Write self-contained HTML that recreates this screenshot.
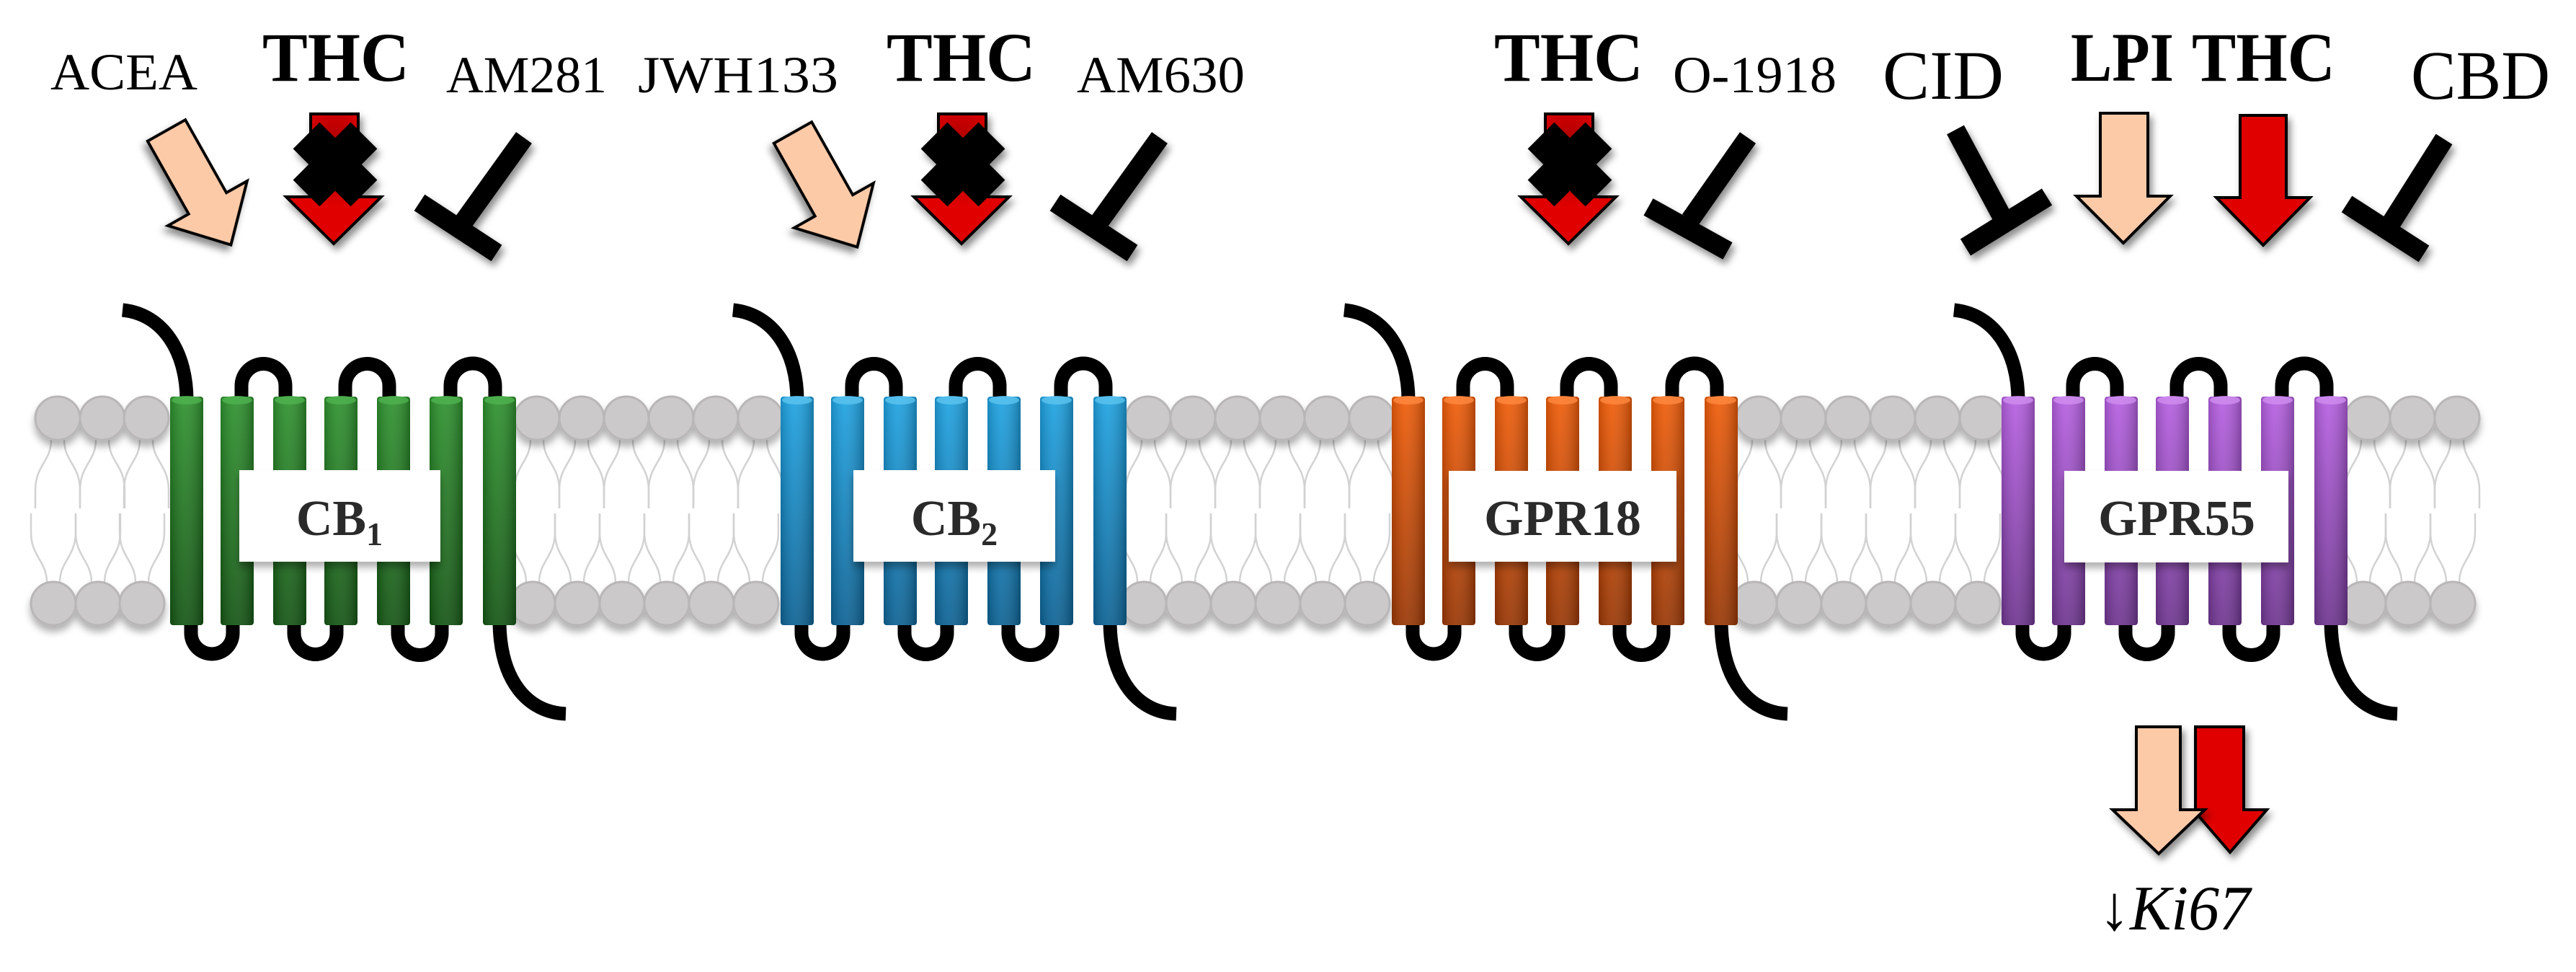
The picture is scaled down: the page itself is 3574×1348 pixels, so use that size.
<!DOCTYPE html>
<html><head><meta charset="utf-8">
<style>
html,body{margin:0;padding:0;background:#fff;}
svg{display:block;}
text{font-family:"Liberation Serif",serif;fill:#000;}
</style></head>
<body>
<svg id="s" width="3574" height="1348" viewBox="0 0 3574 1348" xmlns="http://www.w3.org/2000/svg">
<defs>
 <filter id="sh" x="-30%" y="-30%" width="160%" height="160%">
  <feDropShadow dx="4" dy="7" stdDeviation="5" flood-color="#000" flood-opacity="0.45"/>
 </filter>
 <filter id="hs" x="-30%" y="-30%" width="160%" height="180%">
  <feDropShadow dx="0" dy="8" stdDeviation="5" flood-color="#000" flood-opacity="0.3"/>
 </filter>
 <linearGradient id="gG" x1="0" y1="0" x2="0" y2="1"><stop offset="0" stop-color="#2e922e"/><stop offset="1" stop-color="#145414"/></linearGradient>
 <linearGradient id="gB" x1="0" y1="0" x2="0" y2="1"><stop offset="0" stop-color="#1ea3e2"/><stop offset="1" stop-color="#0c6193"/></linearGradient>
 <linearGradient id="gO" x1="0" y1="0" x2="0" y2="1"><stop offset="0" stop-color="#f05c08"/><stop offset="1" stop-color="#983604"/></linearGradient>
 <linearGradient id="gP" x1="0" y1="0" x2="0" y2="1"><stop offset="0" stop-color="#b65fe2"/><stop offset="1" stop-color="#6e358f"/></linearGradient>
 <linearGradient id="side" x1="0" y1="0" x2="1" y2="0"><stop offset="0" stop-color="#000" stop-opacity="0.15"/><stop offset="0.4" stop-color="#fff" stop-opacity="0.08"/><stop offset="1" stop-color="#000" stop-opacity="0.25"/></linearGradient>
 <radialGradient id="rg" cx="0.5" cy="0.3" r="0.7"><stop offset="0" stop-color="#a00000"/><stop offset="0.6" stop-color="#e00000"/></radialGradient>
</defs>
<g id="mem"></g>
<g id="rec"></g>
<g id="lig"></g>

<!-- labels -->
<g font-size="72">
 <text x="70" y="124" textLength="204" lengthAdjust="spacingAndGlyphs">ACEA</text>
 <text x="619" y="128" textLength="223" lengthAdjust="spacingAndGlyphs">AM281</text>
 <text x="885" y="128" textLength="278" lengthAdjust="spacingAndGlyphs">JWH133</text>
 <text x="1494" y="128" textLength="233" lengthAdjust="spacingAndGlyphs">AM630</text>
 <text x="2321" y="128" textLength="227" lengthAdjust="spacingAndGlyphs">O-1918</text>
</g>
<g font-size="96" font-weight="bold">
 <text x="364" y="112" textLength="204" lengthAdjust="spacingAndGlyphs">THC</text>
 <text x="1230" y="112" textLength="207" lengthAdjust="spacingAndGlyphs">THC</text>
 <text x="2073" y="112" textLength="207" lengthAdjust="spacingAndGlyphs">THC</text>
 <text x="2873" y="112" textLength="143" lengthAdjust="spacingAndGlyphs">LPI</text>
 <text x="3041" y="112" textLength="199" lengthAdjust="spacingAndGlyphs">THC</text>
</g>
<g font-size="96">
 <text x="2612" y="137" textLength="168" lengthAdjust="spacingAndGlyphs">CID</text>
 <text x="3345" y="137" textLength="193" lengthAdjust="spacingAndGlyphs">CBD</text>
</g>
<text x="2912" y="1289" font-size="88" textLength="210" lengthAdjust="spacingAndGlyphs">↓<tspan font-style="italic">Ki67</tspan></text>

<!-- receptor boxes -->
<g filter="url(#hs)" fill="#fff">
 <rect x="332" y="652" width="279" height="127"/>
 <rect x="1184" y="652" width="280" height="127"/>
 <rect x="2010" y="653" width="316" height="126"/>
 <rect x="2864" y="653" width="311" height="127"/>
</g>
<g font-size="70" font-weight="bold" style="fill:#2a2a2a" text-anchor="middle">
 <text x="471" y="742" style="fill:#2a2a2a">CB<tspan font-size="46" dy="14">1</tspan></text>
 <text x="1324" y="742" style="fill:#2a2a2a">CB<tspan font-size="46" dy="14">2</tspan></text>
 <text x="2168" y="742" style="fill:#2a2a2a">GPR18</text>
 <text x="3020" y="742" style="fill:#2a2a2a">GPR55</text>
</g>
</svg>
<script>
var NS="http://www.w3.org/2000/svg";
function el(p,t,a){var e=document.createElementNS(NS,t);for(var k in a)e.setAttribute(k,a[k]);p.appendChild(e);return e;}
var mem=document.getElementById('mem'),rec=document.getElementById('rec'),lig=document.getElementById('lig');
// lipid heads
var xs=[80,142,203];
function run(a,n){for(var i=0;i<n;i++)xs.push(a+i*62);}
run(745,6);run(1593,6);run(2440,6);run(3285,3);
var tails=el(mem,'g',{fill:'none',stroke:'#d2d2d2','stroke-width':2.5});
xs.forEach(function(x){
 [[-9,-1],[9,1]].forEach(function(o){
  var d=o[0],s=o[1];
  el(tails,'path',{d:'M'+(x+d)+' 610 C'+(x+d)+' 640 '+(x+s*31)+' 645 '+(x+s*31)+' 680 L'+(x+s*31)+' 705'});
  el(tails,'path',{d:'M'+(x-6+d)+' 808 C'+(x-6+d)+' 778 '+(x-6+s*31)+' 772 '+(x-6+s*31)+' 738 L'+(x-6+s*31)+' 712'});
 });
});
var heads=el(mem,'g',{fill:'#cbc9ca',stroke:'#b8b6b7','stroke-width':3,filter:'url(#hs)'});
xs.forEach(function(x){
 el(heads,'ellipse',{cx:x,cy:580,rx:31,ry:30});
 el(heads,'ellipse',{cx:x-6,cy:837,rx:31,ry:30});
});
// receptors
var offs=[0,847,1695,2541],gr=['gG','gB','gO','gP'],tops=['#4fb34f','#5cc4f0','#ff8a40','#d18ef0'];
var rel=[0,70,143,214,287,360,434],W=46,T=550,B=867;
offs.forEach(function(o,k){
 var g=el(rec,'g',{});
 var L=el(g,'g',{fill:'none',stroke:'#000','stroke-width':19,'stroke-linecap':'butt'});
 var c=rel.map(function(r){return 236+o+r+W/2;});
 // N-term
 el(L,'path',{d:'M'+(170+o)+' 430 C'+(228+o)+' 436 '+(c[0])+' 490 '+(c[0])+' 555'});
 // top loops 2-3,4-5,6-7
 [[1,2],[3,4],[5,6]].forEach(function(p){
  var a=c[p[0]]+6,b=c[p[1]]-6,r=(b-a)/2;
  el(L,'path',{d:'M'+a+' 556 L'+a+' 535 A'+r+' '+r+' 0 0 1 '+b+' 535 L'+b+' 556'});
 });
 [[0,1],[2,3],[4,5]].forEach(function(p){
  var a=c[p[0]]+6,b=c[p[1]]-6,r=(b-a)/2;
  el(L,'path',{d:'M'+a+' 860 L'+a+' 878 A'+r+' '+r+' 0 0 0 '+b+' 878 L'+b+' 860'});
 });
 el(L,'path',{d:'M'+c[6]+' 860 C'+c[6]+' 945 '+(c[6]+40)+' 988 '+(c[6]+92)+' 990'});
 rel.forEach(function(r){
  var x=236+o+r;
  el(g,'rect',{x:x,y:T,width:W,height:B-T,rx:4,fill:'url(#'+gr[k]+')'});
  el(g,'rect',{x:x,y:T,width:W,height:B-T,rx:4,fill:'url(#side)'});
  el(g,'ellipse',{cx:x+W/2,cy:T+5,rx:W/2-2,ry:6,fill:tops[k],opacity:0.8});
 });
});
// ligands
var sh={filter:'url(#sh)'};
function pinkDiag(tx,ty){
 var p=el(lig,'polygon',{points:'0,-30 116,-30 116,-63 182,0 116,63 116,30 0,30',fill:'#fdcaa8',stroke:'#000','stroke-width':4,'stroke-linejoin':'miter',transform:'translate('+tx+' '+ty+') rotate(60.6)',filter:'url(#sh)'});
}
pinkDiag(231,181);pinkDiag(1100,184);
function thcX(cx){
 var g=el(lig,'g',{filter:'url(#sh)'});
 el(g,'polygon',{points:(cx-34)+',158 '+(cx+32)+',158 '+(cx+32)+',273 '+(cx+64)+',273 '+(cx-2)+',338 '+(cx-68)+',273 '+(cx-34)+',273',fill:'url(#rg)',stroke:'#000','stroke-width':4});
 el(g,'path',{d:'M'+(cx-40)+' 188 L'+(cx+40)+' 268 M'+(cx+40)+' 188 L'+(cx-40)+' 268',stroke:'#000','stroke-width':52,fill:'none'});
}
thcX(465);thcX(1336);thcX(2178);
function tbar(s1,s2,b1,b2){
 var g=el(lig,'g',{filter:'url(#sh)',stroke:'#000','stroke-width':27,fill:'none'});
 el(g,'line',{x1:s1[0],y1:s1[1],x2:s2[0],y2:s2[1]});
 el(g,'line',{x1:b1[0],y1:b1[1],x2:b2[0],y2:b2[1]});
}
tbar([727,191],[640,312],[582,281],[689,351]);
tbar([1609,191],[1522,312],[1464,281],[1571,351]);
tbar([2425,191],[2345,305],[2287,287],[2397,348]);
tbar([2713,180],[2780,305],[2727,343],[2840,273]);
tbar([3391,193],[3317,310],[3256,283],[3363,352]);
function down(x1,x2,h1,h2,top,hy,tip,fill){
 var cx=(h1+h2)/2;
 el(lig,'polygon',{points:x1+','+top+' '+x2+','+top+' '+x2+','+hy+' '+h2+','+hy+' '+cx+','+tip+' '+h1+','+hy+' '+x1+','+hy,fill:fill,stroke:'#000','stroke-width':4,filter:'url(#sh)'});
}
down(2914,2980,2881,3011,157,272,337,'#fdcaa8');
down(3108,3172,3075,3205,160,274,340,'#e00000');
down(3046,3113,3043,3145,1008,1123,1182,'#e00000');
down(2964,3025,2931,3059,1008,1123,1184,'#fdcaa8');
</script>
</body></html>
